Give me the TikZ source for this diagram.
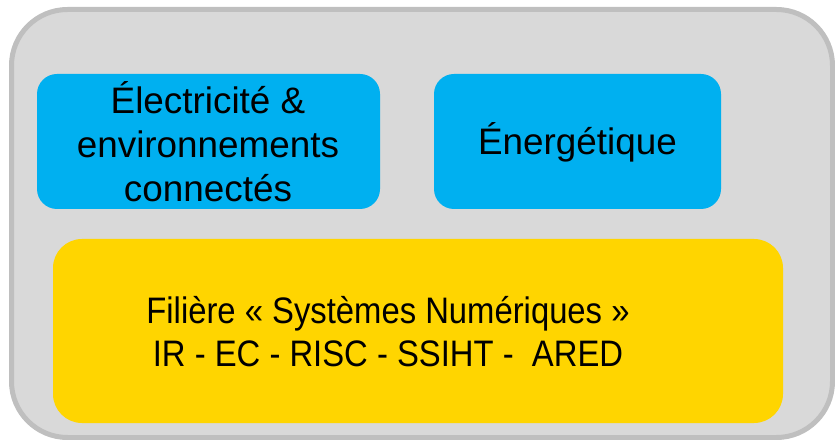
\documentclass[tikz,border=0pt]{standalone}
\usepackage{fontspec}
\setmainfont{Liberation Sans}
\newfontfamily\narrowfont[FakeStretch=0.89]{Liberation Sans}
\definecolor{outerfill}{HTML}{D9D9D9}
\definecolor{outerline}{HTML}{BFBFBF}
\definecolor{bluebox}{HTML}{00B0F0}
\definecolor{yellowbox}{HTML}{FFD500}
\begin{document}
\begin{tikzpicture}[x=1bp,y=-1bp,
  boxtext/.style={align=center,font=\fontsize{37}{44}\selectfont,text=black,inner sep=0pt},
  narrowtext/.style={align=center,font=\narrowfont\fontsize{37}{43}\selectfont,text=black,inner sep=0pt}]
\useasboundingbox (0,0) rectangle (835,440);
\draw[fill=outerfill,draw=outerline,line width=5bp,rounded corners=56bp] (11.5,9.5) rectangle (832.5,437.5);
\fill[bluebox,rounded corners=20bp] (37,74) rectangle (380,209);
\fill[bluebox,rounded corners=20bp] (434,74) rectangle (721,209);
\fill[yellowbox,rounded corners=29bp] (53,239) rectangle (783,423);
\node[boxtext] (elec) at (208,142) {Électricité \&\\environnements\\connectés};
\node[boxtext] (ener) at (577.5,142) {Énergétique};
\node[narrowtext] (fil) at (388,332) {Filière « Systèmes Numériques »\\IR - EC - RISC - SSIHT - \ ARED};
\end{tikzpicture}
\end{document}
